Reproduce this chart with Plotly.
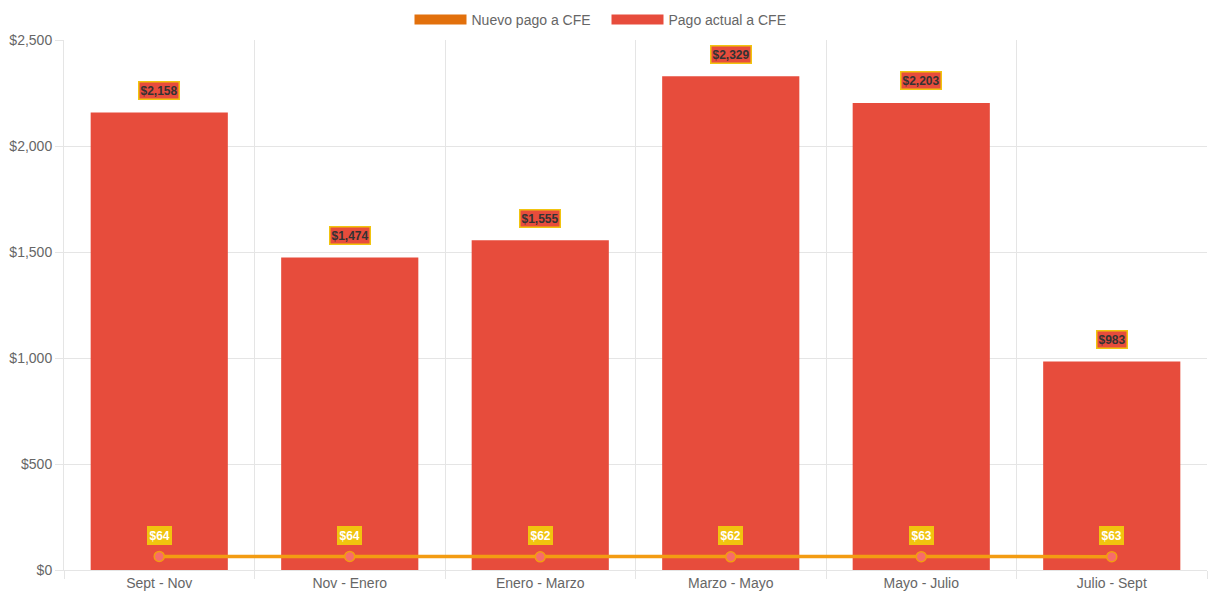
import plotly.graph_objects as go

categories = ["Sept - Nov", "Nov - Enero", "Enero - Marzo", "Marzo - Mayo", "Mayo - Julio", "Julio - Sept"]
pago_actual = [2158, 1474, 1555, 2329, 2203, 983]
nuevo_pago = [64, 64, 62, 62, 63, 63]
y_ticks = [0, 500, 1000, 1500, 2000, 2500]

FONT = "Liberation Sans, Arial, Helvetica, sans-serif"

fig = go.Figure()

# legend-only swatches (wide boxes like the reference)
fig.add_trace(go.Scatter(
    x=[None], y=[None], name="Nuevo pago a CFE", mode="lines",
    line=dict(color="#e2700c", width=14), hoverinfo="skip",
))
fig.add_trace(go.Scatter(
    x=[None], y=[None], name="Pago actual a CFE", mode="lines",
    line=dict(color="#e74c3c", width=14), hoverinfo="skip",
))
fig.add_trace(go.Bar(
    x=categories, y=pago_actual, name="Pago actual a CFE",
    marker=dict(color="#e74c3c", line=dict(width=0)),
    width=0.72, showlegend=False,
))
fig.add_trace(go.Scatter(
    x=categories, y=nuevo_pago, name="Nuevo pago a CFE", mode="lines+markers",
    line=dict(color="#f39c12", width=3.5),
    marker=dict(color="#f76c6c", size=10, line=dict(color="#f39c12", width=1.5)),
    showlegend=False,
))

annotations = []
for c, v in zip(categories, pago_actual):
    annotations.append(dict(
        x=c, y=v, text=f"<b>${v:,}</b>", showarrow=False, yshift=22,
        font=dict(family=FONT, size=12, color="#333333"),
        bgcolor="#e74c3c", bordercolor="#f1c40f", borderwidth=1.5, borderpad=1,
    ))
for c, v in zip(categories, nuevo_pago):
    annotations.append(dict(
        x=c, y=v, text=f"<b>${v:,}</b>", showarrow=False, yshift=21,
        font=dict(family=FONT, size=12, color="#ffffff"),
        bgcolor="#f1c40f", bordercolor="#f1c40f", borderwidth=1.5, borderpad=1,
    ))

fig.update_layout(
    width=1213, height=606,
    margin=dict(l=64, r=6, t=40, b=36, autoexpand=False),
    paper_bgcolor="white", plot_bgcolor="white",
    barmode="overlay",
    font=dict(family=FONT, size=14, color="#666666"),
    legend=dict(orientation="h", x=0.5, xanchor="center", xref="container",
                y=1 - 4 / 606, yanchor="top", yref="container",
                font=dict(size=14, color="#666666"), itemwidth=52, traceorder="normal",
                entrywidth=130, entrywidthmode="pixels"),
    annotations=annotations,
    showlegend=True,
)
fig.update_xaxes(
    type="category", tickson="boundaries", showgrid=True, gridcolor="#e5e5e5", gridwidth=1,
    ticks="outside", ticklen=8, tickcolor="#e5e5e5", showline=True, linecolor="#e5e5e5",
    tickfont=dict(size=14, color="#666666"), zeroline=False, automargin=False,
)
fig.update_yaxes(
    range=[0, 2500], tickvals=y_ticks, ticktext=[f"${v:,}" for v in y_ticks],
    showgrid=True, gridcolor="#e5e5e5", gridwidth=1, ticks="outside", ticklen=8,
    tickcolor="#e5e5e5", showline=True, linecolor="#e5e5e5", zeroline=False,
    tickfont=dict(size=14, color="#666666"), automargin=False,
)

fig.write_html("out.html", config={"displayModeBar": False},
               post_script="document.body.style.margin='0';")
